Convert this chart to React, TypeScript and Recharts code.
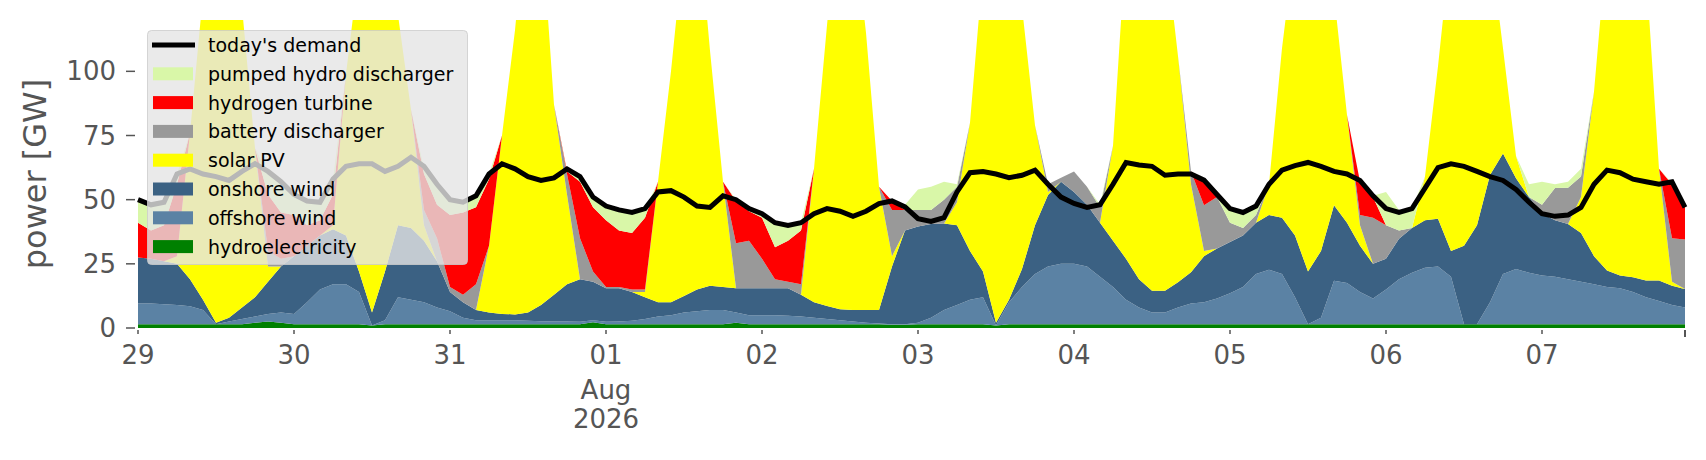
import { ComposedChart, Area, Line, XAxis, YAxis, Legend } from 'recharts'

// two-hourly values in GW, starting 29 Jul 00:00
const hydro = [
  1.5, 1.5, 1.5, 1.5, 1.5, 1.5, 1.5, 1.5, 1.5, 2, 2.5, 2,
  1.5, 1.5, 1.5, 1.5, 1.5, 1.5, 1, 1.5, 1.5, 1.5, 1.5, 1.5,
  1.5, 1.5, 1.5, 1.5, 1.5, 1.5, 1.5, 1.5, 1.5, 1.5, 1.5, 2.2,
  1.5, 1.5, 1.5, 1.5, 1.5, 1.5, 1.5, 1.5, 1.5, 1.5, 2, 1.5,
  1.5, 1.5, 1.5, 1.5, 1.5, 1.5, 1.5, 1.5, 1.5, 1.5, 1.3, 1.3,
  1.5, 1.5, 1.5, 1.5, 1.5, 1.5, 1, 1.5, 1.5, 1.5, 1.5, 1.5,
  1.5, 1.5, 1.5, 1.5, 1.5, 1.5, 1.5, 1.5, 1.5, 1.5, 1.5, 1.5,
  1.5, 1.5, 1.5, 1.5, 1.5, 1.5, 1.5, 1.5, 1.5, 1.5, 1.5, 1.5,
  1.5, 1.5, 1.5, 1.5, 1.5, 1.5, 1.5, 1.5, 1.5, 1.5, 1.5, 1.5,
  1.5, 1.5, 1.5, 1.5, 1.5, 1.5, 1.5, 1.5, 1.5, 1.5, 1.5, 1.5,
]
const offshore = [
  8, 8, 7.8, 7.5, 7, 5.5, 0, 1, 2, 2.5, 3, 4,
  4, 8.5, 13.5, 15.5, 15.5, 12.5, 0, 1.5, 10.5, 9.5, 8.5, 6.5,
  5, 2.5, 1.5, 1.5, 1.5, 1.5, 1.3, 1.1, 1, 1, 0.9, 0.8,
  0.9, 1, 1.3, 2, 3, 3.5, 4.5, 5, 5.5, 5.5, 4, 3.5,
  3.5, 3.5, 3.3, 3, 2.5, 2, 1.5, 1, 0.5, 0.3, 0.2, 0.2,
  0.5, 2.5, 5.5, 7.5, 9.5, 10.5, 0, 8.5, 14.5, 19.5, 22.5, 23.5,
  23.5, 22.5, 18.5, 14.5, 9.5, 6.5, 4.5, 4.5, 6.5, 8, 8.5, 10,
  12, 14.5, 19.5, 21.2, 19.5, 10.5, 0, 2.5, 16.9, 16, 12.5, 10,
  13.5, 17.5, 20, 22, 22.5, 18.5, 0, 0, 8.5, 19.5, 21.5, 20,
  19, 18.5, 17.5, 16.5, 15.5, 14.5, 14, 12.5, 10.5, 9, 7.5, 6.5,
]
const onshore = [
  18, 17.5, 16.7, 16, 10.5, 4, 0.5, 1.5, 4.5, 7.5, 12.5, 18,
  22.5, 22, 21, 21.5, 19, 8, 5, 19, 28, 28, 24, 18,
  7.5, 6, 4, 3, 2.5, 2.3, 3.2, 6.4, 10.5, 14.5, 16.6, 15,
  13.1, 13, 11.2, 8.5, 5.5, 5, 6.5, 8.5, 9.5, 9, 9.5, 10.5,
  10.5, 10.5, 10.7, 8.5, 6, 5.1, 4.3, 4.5, 5, 5.2, 22.5, 36.5,
  37.5, 36.5, 33.7, 31, 19, 10, 1, 1, 7, 19, 27.8, 32,
  28, 24, 21, 18, 16, 11, 8.5, 8.5, 9.8, 12.2, 18, 19.5,
  20, 20, 20, 21.3, 22, 24, 20.5, 26, 29.4, 23.5, 18, 13.5,
  12, 15.8, 17.5, 18.5, 18.6, 10, 30.5, 38.5, 49.6, 47, 35.3, 29.5,
  24.1, 22, 21.5, 19, 11, 6.4, 5, 5.8, 6.5, 8, 7.5, 7.2,
]
const solar = [
  0, 0, 0, 3, 57, 119, 158, 146, 117, 58, 6, 0,
  0, 0, 0, 1.5, 63, 118, 164, 128, 82, 46, 6, 0,
  0, 0, 0, 26, 69.5, 110.7, 164, 151, 74, 35, 0, 0,
  0, 0, 0, 2, 47, 90, 137.5, 150, 91.5, 41, 0, 0,
  0, 0, 0, 0, 52, 109.4, 162.7, 153, 108, 48, 4, 0,
  0, 0, 0, 9, 50, 118, 168, 154, 102, 39, 1.2, 0,
  0, 0, 0, 37, 123, 156, 155.5, 135.5, 88.2, 34.3, 2, 0,
  0, 0, 0, 12, 66, 114, 153, 135, 82.2, 42, 8, 0,
  0, 0, 0, 17, 59.4, 120, 143, 130, 90.4, 41, 8.7, 0,
  0, 0, 0, 14, 64, 127.6, 149.5, 145.2, 121.5, 43.5, 1.5, 0,
]
const battery = [
  0, 0, 0, 0, 0, 0, 0, 0, 0, 0, 6, 3,
  0, 0, 0, 0, 0, 0, 0, 0, 0, 0, 6, 9,
  2, 3, 10, 0, 0, 0, 0, 0, 0, 8, 16, 4,
  0.5, 0.5, 1, 1, 0, 0, 0, 0, 0, 0, 17.5, 18.5,
  11.5, 3.5, 2.5, 4, 0, 0, 0, 0, 0, 0, 18, 8,
  6.5, 5.5, 9.3, 6, 0, 0, 0, 0, 0, 0, 3, 1.5,
  8, 7, 6, 0, 0, 0, 0, 0, 0, 5, 17.8, 20,
  7.5, 3, 3, 0, 0, 0, 0, 0, 0, 0, 4, 18,
  13, 3.2, 0, 0, 0, 0, 0, 0, 0, 0, 0, 0,
  3.4, 12.5, 14.1, 8, 0, 0, 0, 0, 0, 0, 17, 19.3,
]
const hydrogen = [
  13.5, 11, 14, 28, 0, 0, 0, 0, 0, 0, 22, 18,
  16, 8, 6, 12, 0, 0, 0, 0, 0, 0, 14, 13,
  28, 32, 30, 26, 0, 0, 0, 0, 0, 1, 22, 25,
  26, 22, 22, 28, 0, 0, 0, 0, 0, 0, 16.5, 11.5,
  16, 12.5, 16, 21, 0, 0, 0, 0, 0, 0, 3.5, 0,
  0, 0, 0, 0, 0, 0, 0, 0, 0, 0, 0, 0,
  0, 0, 0, 0, 0, 0, 0, 0, 0, 0, 9.8, 0,
  0, 0, 0, 0, 0, 0, 0, 0, 0, 0, 13, 8,
  0, 0, 0, 0, 0, 0, 0, 0, 0, 0, 0, 0,
  0, 0, 0, 0, 0, 0, 0, 0, 0, 0, 21, 12.5,
]
const pumpedHydro = [
  9, 9.5, 8.5, 4, 0, 0, 0, 0, 0, 0, 8, 11,
  8, 9, 7, 6, 0, 0, 0, 0, 0, 0, 2, 7,
  6, 3.5, 4, 2, 0, 0, 0, 0, 0, 0.5, 2, 4,
  5.5, 8, 8, 3, 0, 0, 0, 0, 0, 0, 0.5, 1,
  2, 9.5, 6, 3, 0, 0, 0, 0, 0, 0, 0, 2,
  8, 9, 7, 1, 0, 0, 0, 0, 0, 0, 0, 0,
  0, 0, 1, 0, 0, 0, 0, 0, 0, 0, 0, 1,
  6, 6, 4, 0, 0, 0, 0, 0, 0, 0, 0, 0.5,
  13, 8, 7.5, 0, 0, 0, 0, 0, 0, 0, 0, 5,
  9, 1.5, 2.4, 3, 0, 0, 0, 0, 0, 0, 0.5, 0,
]
const demand = [
  50, 48, 49, 60, 62, 60, 59, 57.5, 61, 64, 61, 57,
  52, 49.5, 49, 58, 63, 64, 64, 61, 63, 66.5, 63, 56,
  50, 49, 51.5, 60, 64, 62, 59, 57.5, 58.5, 62, 59, 51,
  47.5, 46, 45, 46.5, 53, 53.5, 51, 47.5, 47, 51.5, 50, 46.5,
  44.5, 41, 40, 41, 44.5, 46.5, 45.5, 43.5, 45.5, 48.5, 49.5, 47.2,
  42.6, 41.5, 43, 53, 60.5, 61, 60, 58.6, 59.5, 61.5, 56, 51,
  48.5, 47, 48, 56, 64.5, 63.5, 63, 59.5, 60, 60, 57.6, 52,
  46.5, 45, 47.5, 56, 61.5, 63.3, 64.5, 63, 61, 60, 57.5, 51.5,
  46.5, 45, 46.5, 54.5, 62.5, 64, 63, 61, 59, 57.5, 54, 49,
  44.5, 43.5, 44, 47, 56, 61.5, 60.5, 58, 57, 56, 57, 47,
]

const hours = demand.map((_, i) => i * 2)

const dayTicks = [0, 24, 48, 72, 96, 120, 144, 168, 192, 216, 238]
const dayLabels = ['29', '30', '31', '01', '02', '03', '04', '05', '06', '07', '']
const yTicks = [0, 25, 50, 75, 100]

// bottom of the stack first
const SERIES = [
  { key: 'hydro', name: 'hydroelectricity', color: '#008000', values: hydro },
  { key: 'offshore', name: 'offshore wind', color: '#5b82a4', values: offshore },
  { key: 'onshore', name: 'onshore wind', color: '#3b6183', values: onshore },
  { key: 'solar', name: 'solar PV', color: '#ffff00', values: solar },
  { key: 'battery', name: 'battery discharger', color: '#999999', values: battery },
  { key: 'hydrogen', name: 'hydrogen turbine', color: '#ff0000', values: hydrogen },
  { key: 'pumped', name: 'pumped hydro discharger', color: '#d9f7a8', values: pumpedHydro },
]

const data = hours.map((h, i) => {
  const row: Record<string, number> = { h, demand: demand[i] }
  SERIES.forEach(s => { row[s.key] = s.values[i] })
  return row
})

const GREY = '#555555'
const FONT = '"DejaVu Sans", sans-serif'

function XTick(props: any) {
  const { x, y, payload } = props
  const i = dayTicks.indexOf(payload.value)
  const last = i === dayTicks.length - 1
  return (
    <g>
      <line x1={x} x2={x} y1={y - 6} y2={last ? y + 1 : y - 2} stroke={GREY} strokeWidth={last ? 2 : 1.5} />
      <text x={x} y={y + 28} textAnchor="middle" fill={GREY} fontSize={26} fontFamily={FONT}>{dayLabels[i]}</text>
      {payload.value === 72 && (
        <>
          <text x={x} y={y + 63} textAnchor="middle" fill={GREY} fontSize={26} fontFamily={FONT}>Aug</text>
          <text x={x} y={y + 92} textAnchor="middle" fill={GREY} fontSize={26} fontFamily={FONT}>2026</text>
        </>
      )}
    </g>
  )
}

function YTick(props: any) {
  const { x, y, payload } = props
  return (
    <g>
      <line x1={x - 4} x2={x + 5} y1={y} y2={y} stroke={GREY} strokeWidth={1.5} />
      <text x={x - 14} y={y + 9} textAnchor="end" fill={GREY} fontSize={26} fontFamily={FONT}>{payload.value}</text>
    </g>
  )
}

function YLabel() {
  return (
    <text x={35} y={174} transform="rotate(-90 35 174)" textAnchor="middle" dominantBaseline="central"
      fill={GREY} fontSize={32} fontFamily={FONT}>power [GW]</text>
  )
}

function LegendBox() {
  const rows = [...SERIES].reverse()
  const rowY = (i: number) => 15 + i * 28.8
  return (
    <svg width={321} height={235} style={{ display: 'block' }}>
      <rect x={0.5} y={0.5} width={320} height={234} rx={4} fill="#e5e5e5" fillOpacity={0.8} stroke="#cccccc" strokeOpacity={0.8} />
      <line x1={5} x2={48} y1={rowY(0)} y2={rowY(0)} stroke="#000" strokeWidth={5} />
      <text x={61} y={rowY(0) + 7} fontSize={19} fontFamily={FONT} fill="#000">today's demand</text>
      {rows.map((s, i) => (
        <g key={s.key}>
          <rect x={6} y={rowY(i + 1) - 6.5} width={40} height={13} fill={s.color} />
          <text x={61} y={rowY(i + 1) + 7} fontSize={19} fontFamily={FONT} fill="#000">{s.name}</text>
        </g>
      ))}
    </svg>
  )
}

export default function App() {
  return (
    <div style={{ position: 'absolute', left: 0, top: 0, fontFamily: FONT }}>
      <ComposedChart width={1706} height={460} data={data} margin={{ top: 20, right: 21, bottom: 32, left: 58 }}>
        <XAxis dataKey="h" type="number" domain={[0, 238]} ticks={dayTicks} interval={0}
          tick={<XTick />} tickLine={false} axisLine={false} height={100} />
        <YAxis type="number" domain={[0, 120]} allowDataOverflow ticks={yTicks} interval={0}
          tick={<YTick />} tickLine={false} axisLine={false} width={80} label={YLabel} />
        {SERIES.map(s => (
          <Area key={s.key} type="linear" dataKey={s.key} name={s.name} stackId="gen"
            stroke="none" fill={s.color} fillOpacity={1} dot={false} activeDot={false}
            isAnimationActive={false} />
        ))}
        <Line type="linear" dataKey="demand" name="today's demand" stroke="#000" strokeWidth={5}
          dot={false} activeDot={false} isAnimationActive={false} />
        <Legend layout="vertical" align="center" verticalAlign="middle"
          wrapperStyle={{ left: 147, top: 30, width: 321, height: 235 }} content={() => <LegendBox />} />
      </ComposedChart>
    </div>
  )
}
